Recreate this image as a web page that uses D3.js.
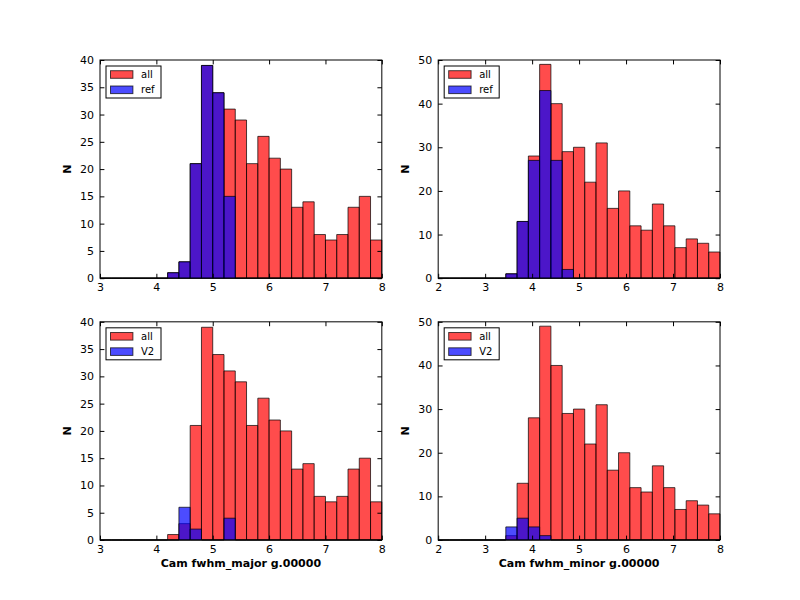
<!DOCTYPE html>
<html>
<title>Cam fwhm histograms</title>
<meta charset="UTF-8">
<head>
    <style>
        body {
            margin: 0;
            padding: 0;
            background-color: white;
        }
        text {
            font-family: "DejaVu Sans", sans-serif;
            fill: black;
        }
        .tick text {
            font-size: 11px;
        }
        .tick line {
            stroke: black;
        }
        .label {
            font-size: 11px;
            font-weight: bold;
        }
        .legend text {
            font-size: 10px;
        }
        .bar {
            stroke: black;
            stroke-width: 1px;
            stroke-opacity: 0.7;
            fill-opacity: 0.7;
        }
        .all { fill: red; }
        .sub { fill: blue; }
    </style>
    <script src="https://d3js.org/d3.v7.min.js"></script>
</head>
<body>
    <div id="chart"></div>
</body>
<script>
    // histogram counts, 25 bins each
    var majorRange = [3, 8],
        minorRange = [2, 8];

    var majorAll = [0, 0, 0, 0, 0, 0, 1, 3, 21, 39, 34, 31, 29, 21, 26, 22, 20, 13, 14, 8, 7, 8, 13, 15, 7];
    var majorRef = [0, 0, 0, 0, 0, 0, 1, 3, 21, 39, 34, 15, 0, 0, 0, 0, 0, 0, 0, 0, 0, 0, 0, 0, 0];
    var majorV2  = [0, 0, 0, 0, 0, 0, 0, 6, 2, 0, 0, 4, 0, 0, 0, 0, 0, 0, 0, 0, 0, 0, 0, 0, 0];

    var minorAll = [0, 0, 0, 0, 0, 0, 1, 13, 28, 49, 40, 29, 30, 22, 31, 16, 20, 12, 11, 17, 12, 7, 9, 8, 6];
    var minorRef = [0, 0, 0, 0, 0, 0, 1, 13, 27, 43, 27, 2, 0, 0, 0, 0, 0, 0, 0, 0, 0, 0, 0, 0, 0];
    var minorV2  = [0, 0, 0, 0, 0, 0, 3, 5, 3, 1, 0, 0, 0, 0, 0, 0, 0, 0, 0, 0, 0, 0, 0, 0, 0];

    var majorTicks = [3, 4, 5, 6, 7, 8],
        minorTicks = [2, 3, 4, 5, 6, 7, 8],
        majorYTicks = [0, 5, 10, 15, 20, 25, 30, 35, 40],
        minorYTicks = [0, 10, 20, 30, 40, 50];

    var panels = [
        {col: 0, row: 0, range: majorRange, xt: majorTicks, yt: majorYTicks, ymax: 40, all: majorAll, sub: majorRef, name: "ref", xlabel: null},
        {col: 1, row: 0, range: minorRange, xt: minorTicks, yt: minorYTicks, ymax: 50, all: minorAll, sub: minorRef, name: "ref", xlabel: null},
        {col: 0, row: 1, range: majorRange, xt: majorTicks, yt: majorYTicks, ymax: 40, all: majorAll, sub: majorV2, name: "V2", xlabel: "Cam fwhm_major g.00000"},
        {col: 1, row: 1, range: minorRange, xt: minorTicks, yt: minorYTicks, ymax: 50, all: minorAll, sub: minorV2, name: "V2", xlabel: "Cam fwhm_minor g.00000"}
    ];

    var W = 800, H = 600;
    var figLeft = 100, figRight = 720, figTop = 60, figBottom = 540;
    var pw = (figRight - figLeft) / 2.2,
        ph = (figBottom - figTop) / 2.2,
        gapX = pw * 0.2,
        gapY = ph * 0.2;
    var tickLen = 4.4;

    var svg = d3.select("#chart").append("svg")
        .attr("width", W)
        .attr("height", H);

    panels.forEach(drawPanel);

    function barPath(x, y, x0, x1, v) {
        return "M" + x(x0) + "," + y(0) + "V" + y(v) + "H" + x(x1) + "V" + y(0) + "Z";
    }

    function drawPanel(p) {
        var ox = figLeft + p.col * (pw + gapX),
            oy = figTop + p.row * (ph + gapY);

        var g = svg.append("g")
            .attr("transform", "translate(" + ox + "," + oy + ")");

        var x = d3.scaleLinear().domain(p.range).range([0, pw]);
        var y = d3.scaleLinear().domain([0, p.ymax]).range([ph, 0]);

        var n = p.all.length,
            bw = (p.range[1] - p.range[0]) / n;

        function drawSeries(data, cls) {
            g.append("g").selectAll("path")
                .data(data)
                .enter().append("path")
                .attr("class", "bar " + cls)
                .attr("d", function(d, i) {
                    var x0 = p.range[0] + i * bw;
                    return barPath(x, y, x0, x0 + bw, d);
                });
        }
        drawSeries(p.all, "all");
        drawSeries(p.sub, "sub");

        // axes, ticks inside on all four sides
        g.append("g")
            .attr("transform", "translate(0," + ph + ")")
            .call(d3.axisBottom(x).tickValues(p.xt).tickFormat(d3.format("d"))
                .tickSizeInner(-tickLen).tickSizeOuter(0).tickPadding(5))
            .call(function(a) { a.select(".domain").remove(); });
        g.append("g")
            .call(d3.axisTop(x).tickValues(p.xt).tickFormat("")
                .tickSizeInner(-tickLen).tickSizeOuter(0))
            .call(function(a) { a.select(".domain").remove(); });
        g.append("g")
            .call(d3.axisLeft(y).tickValues(p.yt).tickFormat(d3.format("d"))
                .tickSizeInner(-tickLen).tickSizeOuter(0).tickPadding(6))
            .call(function(a) { a.select(".domain").remove(); });
        g.append("g")
            .attr("transform", "translate(" + pw + ",0)")
            .call(d3.axisRight(y).tickValues(p.yt).tickFormat("")
                .tickSizeInner(-tickLen).tickSizeOuter(0))
            .call(function(a) { a.select(".domain").remove(); });

        g.selectAll(".tick text").attr("font-family", null).attr("font-size", null);

        g.append("rect")
            .attr("width", pw)
            .attr("height", ph)
            .attr("fill", "none")
            .attr("stroke", "black")
            .attr("stroke-width", 1);

        // y label
        g.append("text")
            .attr("class", "label")
            .attr("text-anchor", "middle")
            .attr("transform", "translate(-29.5," + (ph / 2) + ") rotate(-90)")
            .text("N");

        if (p.xlabel) {
            g.append("text")
                .attr("class", "label")
                .attr("text-anchor", "middle")
                .attr("x", pw / 2)
                .attr("y", ph + 27)
                .text(p.xlabel);
        }

        // legend
        var lg = g.append("g")
            .attr("class", "legend")
            .attr("transform", "translate(6,6)");
        lg.append("rect")
            .attr("width", 55)
            .attr("height", 32)
            .attr("fill", "white")
            .attr("stroke", "black")
            .attr("stroke-width", 1);
        [["all", "all"], [p.name, "sub"]].forEach(function(e, i) {
            lg.append("rect")
                .attr("class", "bar " + e[1])
                .attr("x", 4.5)
                .attr("y", 4.7 + i * 15.3)
                .attr("width", 22.4)
                .attr("height", 7.6);
            lg.append("text")
                .attr("x", 35)
                .attr("y", 12 + i * 15.3)
                .text(e[0]);
        });
    }
</script>
</html>
